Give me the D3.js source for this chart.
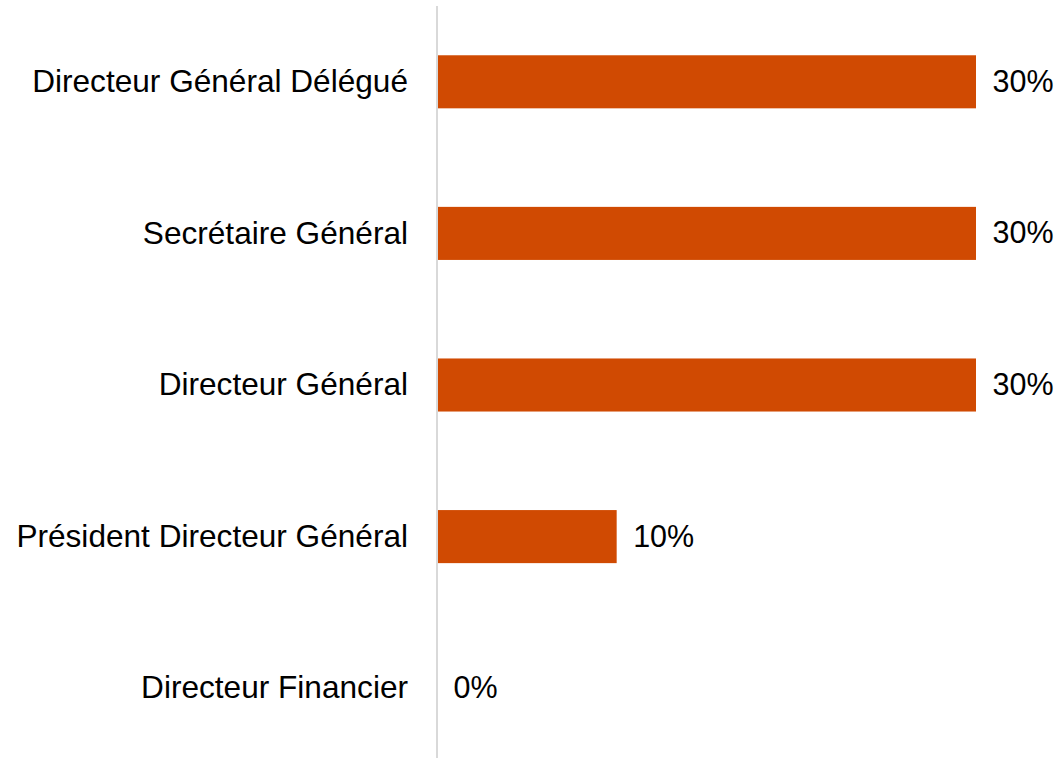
<!DOCTYPE html>
<html>
<head>
<meta charset="utf-8">
<script src="https://cdn.jsdelivr.net/npm/d3@7"></script>
<style>
body { margin: 0; background: #fff; }
</style>
</head>
<body>
<script>
var w = 1061,
    h = 758;

var categories = ["Directeur Général Délégué", "Secrétaire Général", "Directeur Général",
                  "Président Directeur Général", "Directeur Financier"];
var values = [30, 30, 30, 10, 0];

var svg = d3.select("body").append("svg")
    .attr("width", w)
    .attr("height", h);

var x0 = 437;

var x = d3.scaleLinear()
    .domain([0, 30])
    .range([x0, 976]);

var y = d3.scaleBand()
    .domain(categories)
    .range([6, 764])
    .paddingInner(0.65)
    .paddingOuter(0.325);

var rows = svg.selectAll("g.row").data(categories).enter().append("g")
    .attr("class", "row");

rows.append("rect")
    .attr("x", x0 + 1)
    .attr("y", function(d) { return y(d); })
    .attr("width", function(d, i) { return Math.max(0, x(values[i]) - x0 - 1); })
    .attr("height", y.bandwidth())
    .style("fill", "#D04A02");

rows.append("text")
    .text(function(d) { return d; })
    .attr("x", 408)
    .attr("y", function(d) { return y(d) + y.bandwidth() / 2; })
    .attr("dy", "0.32em")
    .attr("text-anchor", "end")
    .style("font-family", "'Liberation Sans', Arial, sans-serif")
    .style("font-size", "31.6px")
    .style("fill", "#000");

rows.append("text")
    .text(function(d, i) { return values[i] + "%"; })
    .attr("x", function(d, i) { return x(values[i]) + 16.5; })
    .attr("y", function(d) { return y(d) + y.bandwidth() / 2; })
    .attr("dy", "0.33em")
    .style("font-family", "'Liberation Sans', Arial, sans-serif")
    .style("font-size", "30.5px")
    .style("fill", "#000");

// axis line
svg.append("line")
    .attr("x1", x0).attr("x2", x0)
    .attr("y1", 6).attr("y2", h)
    .style("stroke", "#d9d9d9")
    .style("stroke-width", 2);
</script>
</body>
</html>
